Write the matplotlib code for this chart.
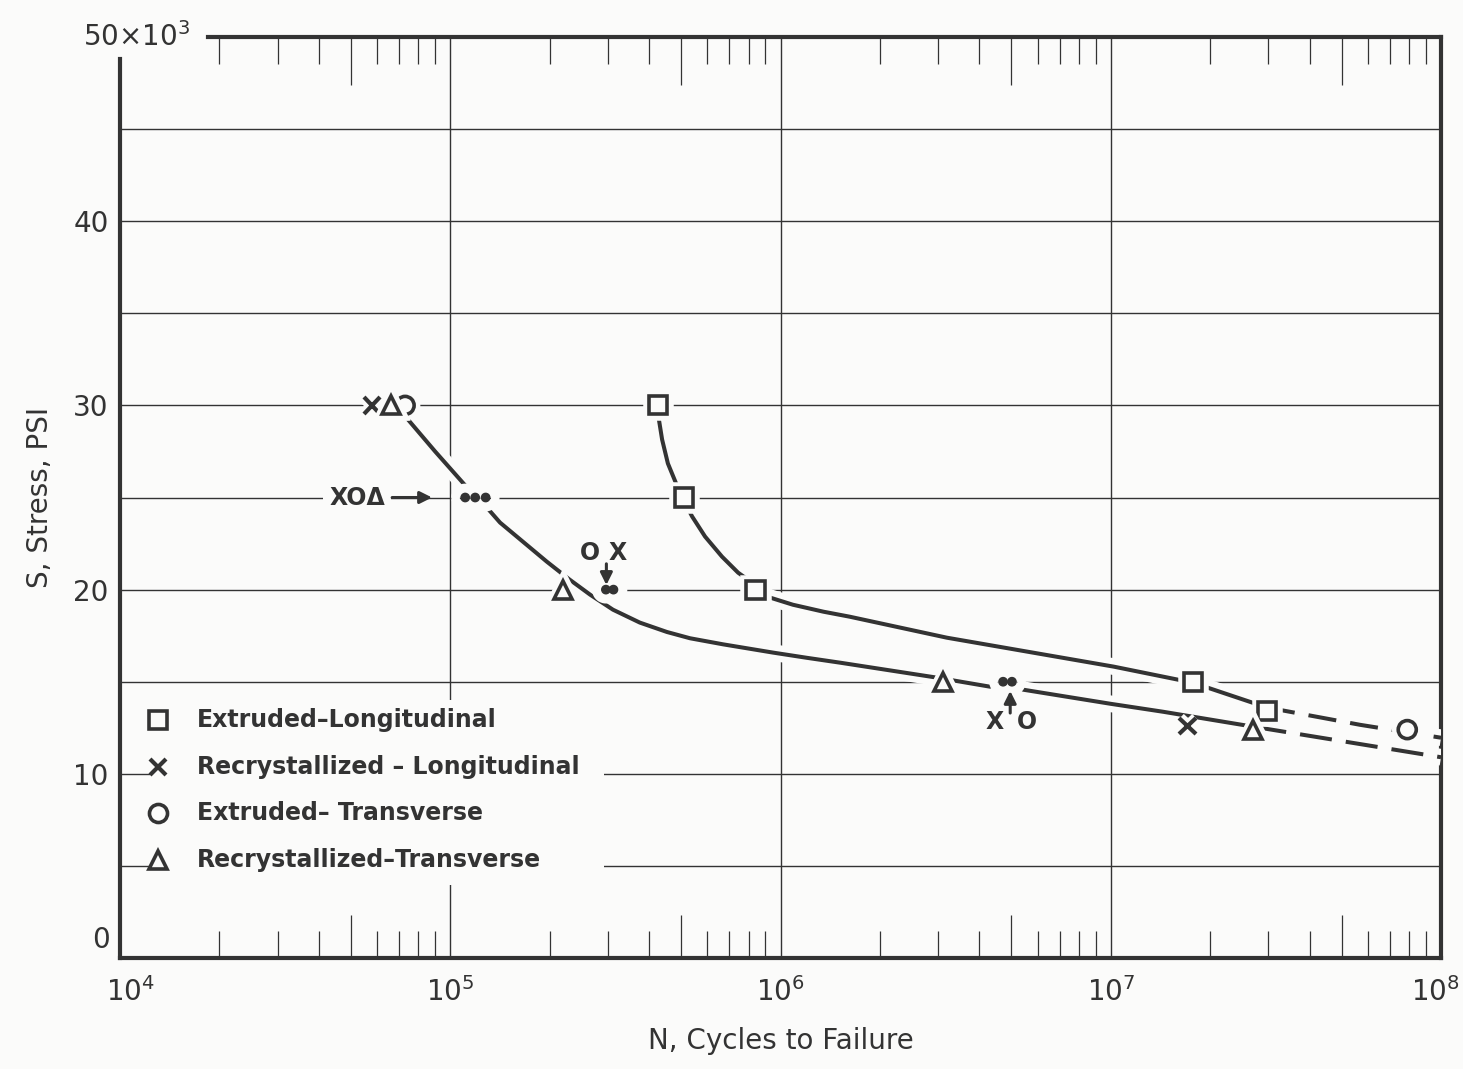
import numpy as np
import matplotlib.pyplot as plt
import matplotlib.patheffects as pe
import matplotlib.transforms as mtransforms
from matplotlib.ticker import FixedLocator, FuncFormatter, NullFormatter

# ---- data (N = cycles, S = ksi) ----
el_N = [4.25e5, 5.1e5, 8.4e5, 1.77e7, 2.97e7]       # extruded - longitudinal
el_S = [30, 25, 20, 15, 13.4]
rl_N = [5.8e4, 1.71e7]                              # recrystallized - longitudinal
rl_S = [30, 12.6]
et_N = [7.3e4, 7.9e7]                               # extruded - transverse
et_S = [30, 12.4]
rt_N = [6.6e4, 2.2e5, 3.1e6, 2.7e7]                 # recrystallized - transverse
rt_S = [30, 20, 15, 12.4]

# grouped points drawn as dots
dot_N = [1.11e5, 1.19e5, 1.28e5, 2.96e5, 3.12e5, 4.72e6, 5.02e6]
dot_S = [25, 25, 25, 20, 20, 15, 15]

# faired curves
upper_N = [4.26e5, 4.38e5, 4.56e5, 4.83e5, 5.07e5, 5.40e5, 5.91e5, 6.65e5, 7.44e5, 8.2e5, 8.55e5,
           9.1e5, 1.09e6, 1.35e6, 1.62e6, 3.19e6, 1.02e7, 1.77e7, 2.97e7]
upper_S = [29.5, 28.15, 26.85, 25.76, 24.9, 23.97, 22.88, 21.79, 20.92, 20.38, 19.9,
           19.62, 19.18, 18.8, 18.53, 17.39, 15.82, 14.95, 13.6]
upper_dash_N = [2.97e7, 5.69e7, 1e8]
upper_dash_S = [13.6, 12.66, 11.96]

lower1_N = [7.0e4, 9.0e4, 1.13e5]
lower1_S = [29.8, 27.5, 25.5]
lower2_N = [1.29e5, 1.415e5, 1.63e5, 1.96e5, 2.3e5, 2.65e5, 3.11e5, 3.75e5, 4.53e5, 5.32e5,
            6.7e5, 9.5e5, 1.2e6, 1.52e6, 2.98e6, 4.31e6]
lower2_S = [24.46, 23.64, 22.72, 21.52, 20.54, 19.73, 18.91, 18.21, 17.7, 17.36,
            17.03, 16.58, 16.3, 16.03, 15.22, 14.73]
lower3_N = [5.42e6, 1.0e7, 1.44e7, 2.72e7]
lower3_S = [14.57, 13.8, 13.37, 12.55]
lower_dash_N = [2.72e7, 1e8]
lower_dash_S = [12.55, 10.9]

grid_S = [5, 10, 15, 20, 25, 30, 35, 40, 45]
grid_N = [1e5, 1e6, 1e7]
decades = [1e4, 1e5, 1e6, 1e7, 1e8]
five_N = [5e4, 5e5, 5e6, 5e7]
yticks = [10, 20, 30, 40]

legend_labels = ['Extruded\u2013Longitudinal', 'Recrystallized \u2013 Longitudinal',
                 'Extruded\u2013 Transverse', 'Recrystallized\u2013Transverse']

ink = '#333333'
bg = '#fbfbfa'
white = [pe.Stroke(linewidth=12, foreground=bg), pe.Normal()]
mwhite = [pe.Stroke(linewidth=9, foreground=bg), pe.Normal()]

plt.rcParams['font.family'] = ['DejaVu Sans']

fig = plt.figure(figsize=(14.63, 10.69), dpi=100, facecolor=bg)
ax = fig.add_axes([0.082, 0.1038, 0.903, 0.8616], facecolor=bg)
ax.set_xscale('log')
ax.set_xlim(1e4, 1e8)
ax.set_ylim(0, 50)

# grid
for s in grid_S:
    ax.axhline(s, color=ink, lw=1.0, zorder=1)
for n in grid_N:
    ax.axvline(n, color=ink, lw=1.0, zorder=1)

# curves
ax.plot(upper_N, upper_S, color=ink, lw=2.9, zorder=3, path_effects=white,
        solid_capstyle='round', solid_joinstyle='round')
ax.plot(upper_dash_N, upper_dash_S, color=ink, lw=2.9, ls=(0, (7, 3.5)), zorder=3, path_effects=white)
for xs, ys in [(lower1_N, lower1_S), (lower2_N, lower2_S), (lower3_N, lower3_S)]:
    ax.plot(xs, ys, color=ink, lw=2.9, zorder=3, path_effects=white,
            solid_capstyle='round', solid_joinstyle='round')
ax.plot(lower_dash_N, lower_dash_S, color=ink, lw=2.9, ls=(0, (8, 3.5)), zorder=3, path_effects=white)

# data markers
styles = [dict(marker='s', ms=13, mfc=bg, mec=ink, mew=2.6),
          dict(marker='x', ms=12, mec=ink, mew=3.0),
          dict(marker='o', ms=13, mfc=bg, mec=ink, mew=2.6),
          dict(marker='^', ms=13, mfc=bg, mec=ink, mew=2.6)]
series = [(el_N, el_S), (rl_N, rl_S), (et_N, et_S), (rt_N, rt_S)]
for (xs, ys), st in zip(series, styles):
    ax.plot(xs, ys, ls='none', zorder=4, path_effects=mwhite, **st)
ax.plot(dot_N, dot_S, ls='none', marker='o', ms=6, color=ink, zorder=4,
        path_effects=[pe.Stroke(linewidth=14, foreground=bg), pe.Normal()])

# tags and arrows
tag = dict(fontsize=17, fontweight='bold', color=ink, ha='center', va='center', zorder=5,
           bbox=dict(boxstyle='square,pad=0.25', fc=bg, ec='none'))
ax.text(5.22e4, 25, 'XO\u0394', **tag)
ax.text(2.65e5, 22.0, 'O', **tag)
ax.text(3.22e5, 22.0, 'X', **tag)
ax.text(4.46e6, 12.8, 'X', **tag)
ax.text(5.57e6, 12.8, 'O', **tag)
arw = dict(arrowstyle='-|>', lw=2.2, color=ink, mutation_scale=18, shrinkA=0, shrinkB=0)
ax.annotate('', xy=(8.81e4, 25), xytext=(6.67e4, 25), arrowprops=arw, zorder=5)
ax.annotate('', xy=(2.97e5, 20.25), xytext=(2.97e5, 21.4), arrowprops=arw, zorder=5)
ax.annotate('', xy=(4.96e6, 14.5), xytext=(4.96e6, 13.3), arrowprops=arw, zorder=5)

# legend, drawn on a blank patch that hides the grid
ax.add_patch(plt.Rectangle((0.0227, 0.079), 0.344, 0.201, transform=ax.transAxes,
                           fc=bg, ec='none', zorder=5))
row_y = [0.2584, 0.2074, 0.1574, 0.1064]
for y, lab, st in zip(row_y, legend_labels, styles):
    ax.plot([0.0288], [y], transform=ax.transAxes, ls='none', zorder=6, clip_on=False, **st)
    ax.text(0.0583, y, lab, transform=ax.transAxes, fontsize=17, fontweight='bold',
            color=ink, va='center', ha='left', zorder=6)

# spines
for sp in ax.spines.values():
    sp.set_linewidth(3.0)
    sp.set_color(ink)
ax.spines['left'].set_bounds(0, 48.8)
ax.spines['top'].set_bounds(1.85e4, 1e8)

# x ticks
ax.xaxis.set_major_locator(FixedLocator(decades))
ax.xaxis.set_major_formatter(FuncFormatter(lambda v, p: r'$10^{%d}$' % round(np.log10(v))))
minors = [m * d for d in decades[:-1] for m in (2, 3, 4, 6, 7, 8, 9)]
ax.xaxis.set_minor_locator(FixedLocator(minors))
ax.xaxis.set_minor_formatter(NullFormatter())
ax.tick_params(axis='x', which='major', length=0, pad=14, labelsize=20, colors=ink)
ax.tick_params(axis='x', which='minor', direction='in', length=19.5, width=0.9,
               top=True, bottom=True, color=ink)
ax.vlines(five_N, 0, 0.047, transform=ax.get_xaxis_transform(), color=ink, lw=0.9, zorder=2)
ax.vlines(five_N, 1 - 0.052, 1, transform=ax.get_xaxis_transform(), color=ink, lw=0.9, zorder=2)
xlabels = ax.get_xticklabels()
xlabels[0].set_transform(xlabels[0].get_transform()
                         + mtransforms.ScaledTranslation(0.1, 0, fig.dpi_scale_trans))
xlabels[-1].set_transform(xlabels[-1].get_transform()
                          + mtransforms.ScaledTranslation(-0.06, 0, fig.dpi_scale_trans))

# y ticks
ax.set_yticks(yticks)
ax.set_yticklabels([str(v) for v in yticks])
ax.tick_params(axis='y', length=0, pad=8, labelsize=20, colors=ink)
ax.text(-0.008, 1.0, '0', transform=ax.get_yaxis_transform(), ha='right', va='center',
        fontsize=20, color=ink)
ax.text(0.053, 50, r'50$\times$10$^3$', transform=ax.get_yaxis_transform(), ha='right',
        va='center', fontsize=20, color=ink)

ax.set_xlabel('N, Cycles to Failure', fontsize=20, color=ink, labelpad=14)
ax.set_ylabel('S, Stress, PSI', fontsize=20, color=ink, labelpad=14)

fig.savefig('out.png', dpi=100, facecolor=bg)
